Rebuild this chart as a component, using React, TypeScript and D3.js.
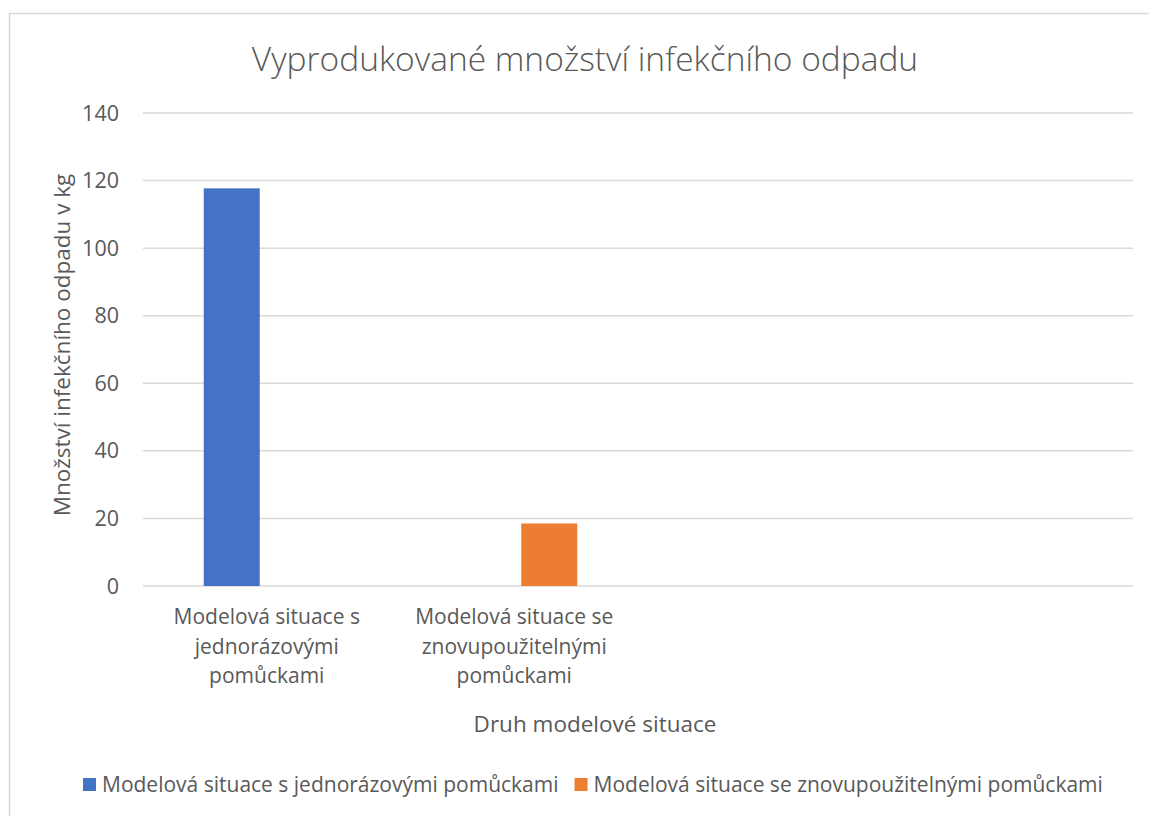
import React, { useEffect, useRef } from "react";
import * as d3 from "d3";

// chart data
const categories = [
  "Modelová situace s jednorázovými pomůckami",
  "Modelová situace se znovupoužitelnými pomůckami",
  "",
  "",
];
const seriesNames = [
  "Modelová situace s jednorázovými pomůckami",
  "Modelová situace se znovupoužitelnými pomůckami",
];
const seriesColors = ["#4472C4", "#ED7D31"];
// one value per category, per series (null = no bar)
const jednorazove = [117.7, null, null, null];
const znovupouzitelne = [null, 18.5, null, null];
const yTicks = [0, 20, 40, 60, 80, 100, 120, 140];

const W = 1149;
const H = 816;
const FONT = "'Open Sans', 'DejaVu Sans', sans-serif";
const TXT = "#595959";
const GRID = "#D9D9D9";

function App() {
  const ref = useRef<SVGSVGElement>(null);

  useEffect(() => {
    const svg = d3.select(ref.current);
    svg.selectAll("*").remove();

    const left = 143, right = 1133, top = 113, bottom = 586;

    const x = d3.scaleBand<string>()
      .domain(categories.map((_, i) => String(i)))
      .range([left, right])
      .padding(0);
    const inner = d3.scaleBand<string>()
      .domain(["0", "1"])
      .range([x.bandwidth() / 2 - 63, x.bandwidth() / 2 + 63])
      .paddingInner(0.2);
    const y = d3.scaleLinear().domain([0, 140]).range([bottom, top]);

    // outer border
    svg.append("rect")
      .attr("x", 9.5).attr("y", 13.5)
      .attr("width", W + 20).attr("height", H + 20)
      .attr("fill", "white")
      .attr("stroke", GRID).attr("stroke-width", 1.5);

    // title
    svg.append("text")
      .attr("x", 585).attr("y", 71)
      .attr("text-anchor", "middle")
      .attr("font-family", FONT).attr("font-weight", 300)
      .attr("font-size", 33.5).attr("fill", TXT)
      .text("Vyprodukované množství infekčního odpadu");

    // gridlines + tick labels
    const g = svg.append("g");
    g.selectAll("line.grid")
      .data(yTicks)
      .join("line")
        .attr("class", "grid")
        .attr("x1", left).attr("x2", right)
        .attr("y1", d => y(d)).attr("y2", d => y(d))
        .attr("stroke", GRID).attr("stroke-width", 1.5);
    g.selectAll("text.tick")
      .data(yTicks)
      .join("text")
        .attr("class", "tick")
        .attr("x", 119).attr("y", d => y(d) + 7.5)
        .attr("text-anchor", "end")
        .attr("font-family", FONT).attr("font-size", 21.5).attr("fill", TXT)
        .text(d => d);

    // bars
    const series = [jednorazove, znovupouzitelne];
    series.forEach((vals, si) => {
      svg.append("g")
        .selectAll("rect")
        .data(vals.map((v, i) => ({ v, i })).filter(d => d.v !== null))
        .join("rect")
          .attr("x", d => (x(String(d.i)) as number) + (inner(String(si)) as number))
          .attr("width", inner.bandwidth())
          .attr("y", d => y(d.v as number))
          .attr("height", d => y(0) - y(d.v as number))
          .attr("fill", seriesColors[si]);
    });

    // category labels, wrapped
    const maxW = 225;
    categories.forEach((c, i) => {
      if (!c) return;
      const cx = (x(String(i)) as number) + x.bandwidth() / 2;
      const t = svg.append("text")
        .attr("text-anchor", "middle")
        .attr("font-family", FONT).attr("font-size", 21).attr("fill", TXT);
      const words = c.split(" ");
      let line: string[] = [];
      let lineNo = 0;
      let tspan = t.append("tspan").attr("x", cx).attr("y", 624);
      words.forEach(w => {
        line.push(w);
        tspan.text(line.join(" "));
        const node = tspan.node() as SVGTSpanElement;
        if (node.getComputedTextLength() > maxW && line.length > 1) {
          line.pop();
          tspan.text(line.join(" "));
          line = [w];
          lineNo++;
          tspan = t.append("tspan").attr("x", cx).attr("y", 624 + lineNo * 29.5).text(w);
        }
      });
    });

    // axis titles
    svg.append("text")
      .attr("x", 595).attr("y", 732)
      .attr("text-anchor", "middle")
      .attr("font-family", FONT).attr("font-size", 22.5).attr("fill", TXT)
      .text("Druh modelové situace");
    svg.append("text")
      .attr("transform", "translate(70,345) rotate(-90)")
      .attr("text-anchor", "middle")
      .attr("font-family", FONT).attr("font-size", 22.5).attr("fill", TXT)
      .text("Množství infekčního odpadu v kg");

    // legend
    const leg = svg.append("g");
    let lx = 83;
    seriesNames.forEach((name, i) => {
      leg.append("rect")
        .attr("x", lx).attr("y", 778)
        .attr("width", 13).attr("height", 13)
        .attr("fill", seriesColors[i]);
      const txt = leg.append("text")
        .attr("x", lx + 19).attr("y", 792)
        .attr("font-family", FONT).attr("font-size", 21).attr("fill", TXT)
        .text(name);
      lx += 19 + (txt.node() as SVGTextElement).getComputedTextLength() + 16;
    });
  }, []);

  return (
    <svg
      ref={ref}
      width={W}
      height={H}
      style={{ position: "absolute", left: 0, top: 0, background: "white" }}
    />
  );
}

export default App;
